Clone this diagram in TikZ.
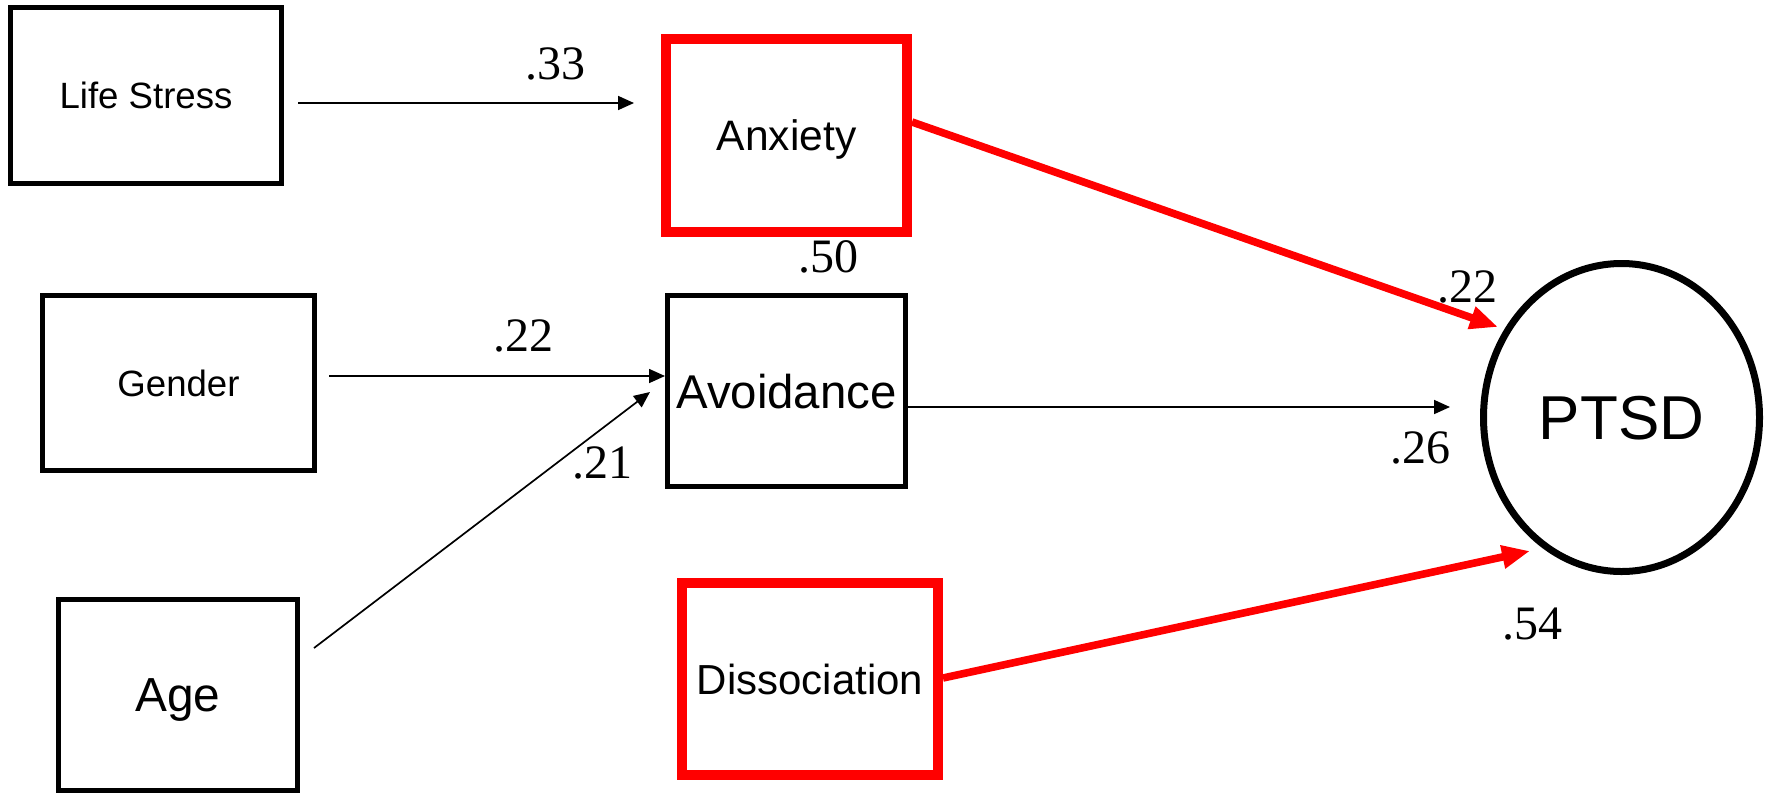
\documentclass[tikz,border=0pt]{standalone}
\usepackage{fontspec}
\setmainfont{Liberation Sans}
\newfontfamily\numfont{Liberation Serif}
\usetikzlibrary{shapes.geometric,arrows.meta,calc}
\begin{document}
\begin{tikzpicture}[x=0.5pt,y=-0.5pt,
  blackbox/.style={draw=black,line width=2.5pt,rectangle,inner sep=0pt,outer sep=0pt,text depth=0pt,align=center},
  redbox/.style={draw=red,line width=5pt,rectangle,inner sep=0pt,outer sep=0pt,text depth=0pt,align=center},
  thinarrow/.style={draw=black,line width=0.85pt,-{Triangle[length=8pt,width=7pt]}},
  redarrow/.style={draw=red,line width=3.8pt,-{Triangle[length=14pt,width=11pt]}},
  coef/.style={font={\numfont\fontsize{24}{28}\selectfont},inner sep=0pt,outer sep=0pt,text depth=0pt}
]
\useasboundingbox (0,0) rectangle (1772,794);

% boxes
\node[blackbox,minimum width=135.5pt,minimum height=88pt,font={\fontsize{18.3}{22}\selectfont}] (ls) at (146,95.5) {Life Stress};
\node[redbox,minimum width=120.5pt,minimum height=96.5pt,font={\fontsize{21.3}{25}\selectfont}] (anx) at (786.5,135.5) {Anxiety};
\node[blackbox,minimum width=136pt,minimum height=87.5pt,font={\fontsize{18.3}{22}\selectfont}] (gen) at (178.5,383) {Gender};
\node[blackbox,minimum width=119pt,minimum height=95.5pt,font={\fontsize{23.7}{28}\selectfont}] (av) at (786.5,391) {Avoidance};
\node[blackbox,minimum width=119.5pt,minimum height=95.5pt,font={\fontsize{23.9}{28}\selectfont}] (age) at (178,695) {Age};
\node[redbox,minimum width=128pt,minimum height=96pt,font={\fontsize{21}{25}\selectfont}] (diss) at (810,679) {Dissociation};
\node[ellipse,draw=black,line width=3.5pt,minimum width=138pt,minimum height=154pt,inner sep=0pt,outer sep=0pt,text depth=0pt,font={\fontsize{31}{36}\selectfont}] (ptsd) at (1621.5,417.5) {PTSD};

% connectors
\draw[thinarrow] ($(ls.east)+(16.5,7.5)$) -- ($(anx.west)+(-32,-32.5)$);
\draw[thinarrow] ($(gen.east)+(14.5,-7)$) -- ($(av.west)+(-2.5,-15)$);
\draw[thinarrow] ($(age.east)+(16.5,-47)$) -- ($(av.west)+(-17.5,1)$);
\draw[thinarrow] ($(av.east)+(2.5,16)$) -- ($(ptsd.west)+(-33.5,-10.5)$);
\draw[redarrow] ($(anx.east)+(5,-13.5)$) -- ($(ptsd.center)+(-123.5,-90.5)$);
\draw[redarrow] ($(diss.east)+(5,-1)$) -- ($(ptsd.center)+(-91.5,133.5)$);

% coefficients
\node[coef] (c33) at (555,63.5) {.33};
\node[coef] (c22a) at (523,336) {.22};
\node[coef] (c21) at (602,463) {.21};
\node[coef] (c50) at (828,257) {.50};
\node[coef] (c22b) at (1467.5,287) {.22};
\node[coef] (c26) at (1420,447.5) {.26};
\node[coef] (c54) at (1532.5,623.5) {.54};
\end{tikzpicture}
\end{document}
